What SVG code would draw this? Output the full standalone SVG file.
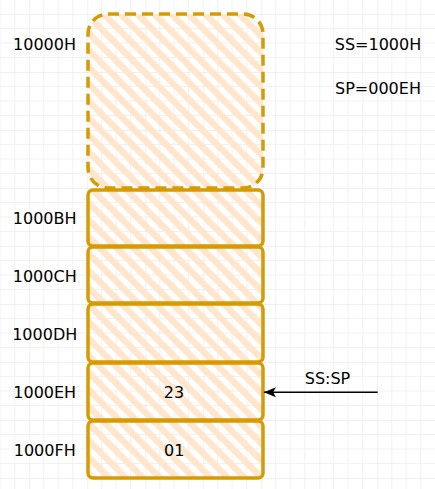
<svg xmlns="http://www.w3.org/2000/svg" width="435" height="489" viewBox="0 0 435 489">
  <defs>
    <pattern id="grid" patternUnits="userSpaceOnUse" x="29.3" y="14" width="58" height="58">
      <path d="M14.5 0V58M29 0V58M43.5 0V58M0 14.5H58M0 29H58M0 43.5H58" stroke="#f1f1f1" stroke-width="1" fill="none"/>
      <path d="M0 0V58M0 0H58" stroke="#e2e2e2" stroke-width="1" fill="none"/>
    </pattern>
    <pattern id="hatch" patternUnits="userSpaceOnUse" width="12" height="12" patternTransform="rotate(-45)">
      <rect x="0" y="0" width="6.5" height="12" fill="#ffe6cc"/>
    </pattern>
    <marker id="arrow" viewBox="0 0 12 10" refX="12" refY="5" markerWidth="12" markerHeight="10" markerUnits="userSpaceOnUse" orient="auto">
      <path d="M12 5L0 0L3 5L0 10Z" fill="#000"/>
    </marker>
    <style>
      .box { fill: url(#hatch); stroke: #d79b00; stroke-width: 3.5; stroke-linejoin: round; }
      .dash { stroke-dasharray: 11 6; }
      text { font-family: "DejaVu Sans", "Liberation Sans", sans-serif; font-size: 16px; fill: #000; text-anchor: middle; }
    </style>
  </defs>
  <rect x="0" y="0" width="435" height="489" fill="#fff"/>
  <rect x="0" y="0" width="435" height="489" fill="url(#grid)"/>

  <g id="n-top">
    <rect class="box dash" x="88" y="14" width="175" height="174" rx="20" ry="20"/>
    <text x="44.5" y="50">10000H</text>
  </g>
  <g id="n-1000B">
    <rect class="box" x="88" y="190" width="175" height="56" rx="5" ry="5"/>
    <text x="44.7" y="224">1000BH</text>
  </g>
  <g id="n-1000C">
    <rect class="box" x="88" y="247" width="175" height="56" rx="5" ry="5"/>
    <text x="44.7" y="282">1000CH</text>
  </g>
  <g id="n-1000D">
    <rect class="box" x="88" y="304" width="175" height="58" rx="5" ry="5"/>
    <text x="44.7" y="340">1000DH</text>
  </g>
  <g id="n-1000E">
    <rect class="box" x="88" y="363" width="175" height="57" rx="5" ry="5"/>
    <text x="44.7" y="398">1000EH</text>
    <text x="174" y="398">23</text>
  </g>
  <g id="n-1000F">
    <rect class="box" x="88" y="421" width="175" height="57" rx="5" ry="5"/>
    <text x="44.7" y="456">1000FH</text>
    <text x="174.3" y="456">01</text>
  </g>
  <g id="n-info">
    <text x="378" y="50">SS=1000H</text>
    <text x="378" y="94">SP=000EH</text>
  </g>
  <g id="connectors">
    <line x1="377.7" y1="392.3" x2="264" y2="392.3" stroke="#000" stroke-width="1.45" marker-end="url(#arrow)"/>
    <text x="327.5" y="384">SS:SP</text>
  </g>
</svg>
